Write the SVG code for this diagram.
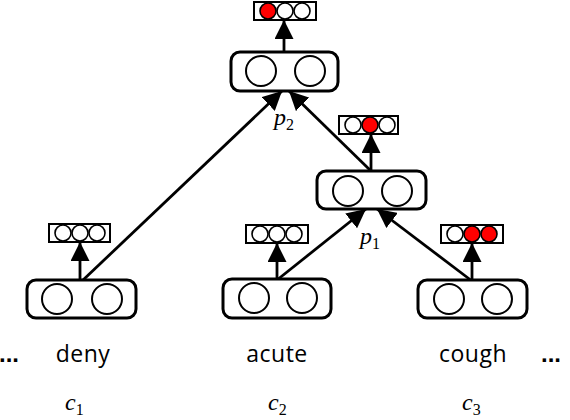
<svg xmlns="http://www.w3.org/2000/svg" width="570" height="420" viewBox="0 0 570 420">
<style>
.node{fill:#fff;stroke:#000;stroke-width:3}
.c{fill:#fff;stroke:#000;stroke-width:2}
.vb{fill:#fff;stroke:#000;stroke-width:2}
.vc{fill:#fff;stroke:#000;stroke-width:1.6}
.red{fill:#f00}
.edge{stroke:#000;stroke-width:2.8;fill:none}
.word{font-family:"Open Sans","Liberation Sans",sans-serif;font-size:23px;fill:#000;letter-spacing:0.5px}
.dots{font-family:"Liberation Sans",sans-serif;font-size:24px;font-weight:bold;fill:#000}
.var{font-family:"Liberation Serif",serif;font-style:italic;font-size:24px;fill:#000}
.sub{font-family:"Liberation Serif",serif;font-style:normal;font-size:16px;fill:#000}
</style>
<defs>
<marker id="ah2" viewBox="0 0 19 19" refX="19" refY="9.5" markerWidth="19" markerHeight="19" orient="auto" markerUnits="userSpaceOnUse">
<path d="M0,0 L19,9.5 L0,19 Z" fill="#000"/>
</marker>
</defs>

<g id="connectors">
<line class="edge" x1="82" y1="281" x2="282" y2="91" marker-end="url(#ah2)"/>
<line class="edge" x1="371" y1="171" x2="289" y2="91" marker-end="url(#ah2)"/>
<line class="edge" x1="277" y1="280" x2="366" y2="209" marker-end="url(#ah2)"/>
<line class="edge" x1="472" y1="281" x2="377" y2="209" marker-end="url(#ah2)"/>
<line class="edge" x1="284" y1="52" x2="284" y2="20" marker-end="url(#ah2)"/>
<line class="edge" x1="371" y1="171" x2="371" y2="134" stroke-width="4" marker-end="url(#ah2)"/>
<line class="edge" x1="80" y1="280" x2="80" y2="242" marker-end="url(#ah2)"/>
<line class="edge" x1="277" y1="279" x2="277" y2="243" marker-end="url(#ah2)"/>
<line class="edge" x1="472" y1="280" x2="472" y2="243" marker-end="url(#ah2)"/>
</g>

<g id="node-top">
<rect class="node" x="231" y="52" width="107" height="39" rx="9"/>
<circle class="c" cx="261" cy="71" r="15"/>
<circle class="c" cx="310" cy="71" r="15"/>
</g>
<g id="vec-top">
<rect class="vb" x="254" y="2" width="62" height="18"/>
<circle class="vc red" cx="268" cy="11" r="8"/>
<circle class="vc" cx="285" cy="11" r="8"/>
<circle class="vc" cx="302" cy="11" r="8"/>
</g>

<g id="node-p1">
<rect class="node" x="317" y="171" width="109" height="38" rx="9"/>
<circle class="c" cx="348" cy="191" r="15"/>
<circle class="c" cx="397" cy="191" r="15"/>
</g>
<g id="vec-p1">
<rect class="vb" x="339" y="116" width="59" height="18"/>
<circle class="vc" cx="353" cy="125" r="8"/>
<circle class="vc red" cx="370" cy="125" r="8"/>
<circle class="vc" cx="387" cy="125" r="8"/>
</g>

<g id="node-deny">
<rect class="node" x="27" y="280" width="109" height="38" rx="9"/>
<circle class="c" cx="57" cy="299" r="15"/>
<circle class="c" cx="107" cy="299" r="15"/>
</g>
<g id="vec-deny">
<rect class="vb" x="49" y="224" width="61" height="18"/>
<circle class="vc" cx="63" cy="233" r="8"/>
<circle class="vc" cx="80" cy="233" r="8"/>
<circle class="vc" cx="97" cy="233" r="8"/>
</g>

<g id="node-acute">
<rect class="node" x="223" y="279" width="108" height="39" rx="9"/>
<circle class="c" cx="254" cy="298" r="15"/>
<circle class="c" cx="302" cy="298" r="15"/>
</g>
<g id="vec-acute">
<rect class="vb" x="246" y="225" width="62" height="18"/>
<circle class="vc" cx="260" cy="234" r="8"/>
<circle class="vc" cx="277" cy="234" r="8"/>
<circle class="vc" cx="294" cy="234" r="8"/>
</g>

<g id="node-cough">
<rect class="node" x="418" y="280" width="109" height="38" rx="9"/>
<circle class="c" cx="449" cy="299" r="15"/>
<circle class="c" cx="497" cy="299" r="15"/>
</g>
<g id="vec-cough">
<rect class="vb" x="441" y="225" width="62" height="18"/>
<circle class="vc" cx="455" cy="234" r="8"/>
<circle class="vc red" cx="472" cy="234" r="8"/>
<circle class="vc red" cx="489" cy="234" r="8"/>
</g>

<g id="labels">
<text class="var" x="274" y="125">p<tspan class="sub" dy="5">2</tspan></text>
<text class="var" x="360" y="244">p<tspan class="sub" dy="5">1</tspan></text>
<text class="word" x="83" y="362" text-anchor="middle">deny</text>
<text class="word" x="277" y="362" text-anchor="middle">acute</text>
<text class="word" x="473" y="362" text-anchor="middle">cough</text>
<text class="dots" x="-1" y="362">...</text>
<text class="dots" x="541" y="362">...</text>
<text class="var" x="65" y="410">c<tspan class="sub" dy="5">1</tspan></text>
<text class="var" x="268" y="410">c<tspan class="sub" dy="5">2</tspan></text>
<text class="var" x="462" y="410">c<tspan class="sub" dy="5">3</tspan></text>
</g>
</svg>
